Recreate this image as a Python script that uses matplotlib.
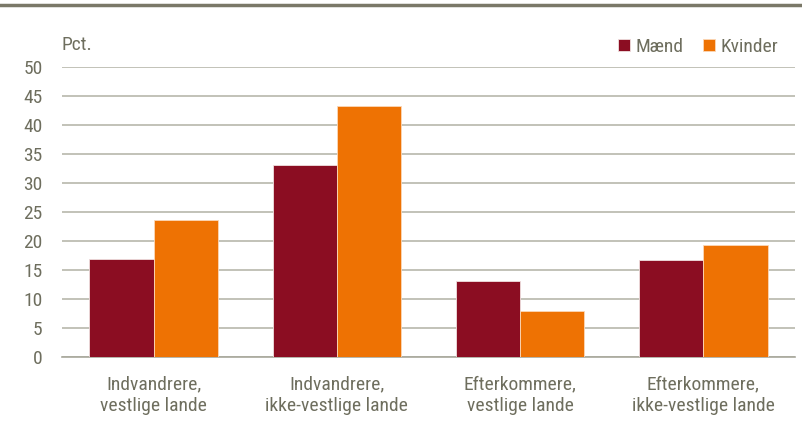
import matplotlib.pyplot as plt
import numpy as np
from matplotlib import font_manager

categories = ["Indvandrere,\nvestlige lande", "Indvandrere,\nikke-vestlige lande",
              "Efterkommere,\nvestlige lande", "Efterkommere,\nikke-vestlige lande"]
maend = [16.9, 33.1, 13.1, 16.7]
kvinder = [23.6, 43.3, 7.9, 19.3]
yticks = [0, 5, 10, 15, 20, 25, 30, 35, 40, 45, 50]

names = {f.name for f in font_manager.fontManager.ttflist}
fam = "Liberation Sans"
for cand in ["Liberation Sans Narrow", "Roboto Condensed", "Open Sans Condensed",
             "DejaVu Sans Condensed", "Noto Sans Condensed"]:
    if cand in names:
        fam = cand
        break
plt.rcParams['font.family'] = [fam, 'DejaVu Sans']

txt = '#6e6e5e'
grid = '#b8b8ac'
c_m = '#8b0d22'
c_k = '#ee7203'

fig = plt.figure(figsize=(8.03, 4.30), dpi=100)
ax = fig.add_axes([62/803, 1 - 357/430, 733/803, 290/430])

x = np.arange(len(categories))
w = 0.35
ax.bar(x - w/2, maend, w, color=c_m, edgecolor='#f0e0e0', linewidth=0.6, label='Mænd', zorder=3)
ax.bar(x + w/2, kvinder, w, color=c_k, edgecolor='#fbd8b8', linewidth=0.6, label='Kvinder', zorder=3)

ax.set_xlim(-0.5, len(categories) - 0.5)
ax.set_ylim(0, 50)
ax.set_yticks(yticks)
ax.yaxis.grid(True, color=grid, linewidth=1.2, zorder=0)
for s in ['top', 'right', 'left']:
    ax.spines[s].set_visible(False)
ax.spines['bottom'].set_color('#a8a89c')
ax.spines['bottom'].set_linewidth(1.2)
fs = 14
ax.tick_params(axis='y', length=0, pad=14, labelsize=fs, labelcolor=txt)
ax.tick_params(axis='x', length=0, pad=13, labelsize=fs, labelcolor=txt)
ax.set_xticks(x)
ax.set_xticklabels(categories, linespacing=1.25)

fig.text(62/803, 1 - 45/430, "Pct.", fontsize=fs, color=txt, va='center', ha='left')
fig.add_artist(plt.Line2D([0, 1], [1 - 5/430, 1 - 5/430], color='#7a7868', linewidth=2.5))

leg = ax.legend(loc='upper right', bbox_to_anchor=(786/803, 1 - 30/430), bbox_transform=fig.transFigure,
                ncol=2, frameon=False, fontsize=fs, handlelength=0.6, handleheight=0.6,
                handletextpad=0.3, columnspacing=1.0, borderaxespad=0)
for t in leg.get_texts():
    t.set_color(txt)

fig.savefig("out.png", dpi=100)
